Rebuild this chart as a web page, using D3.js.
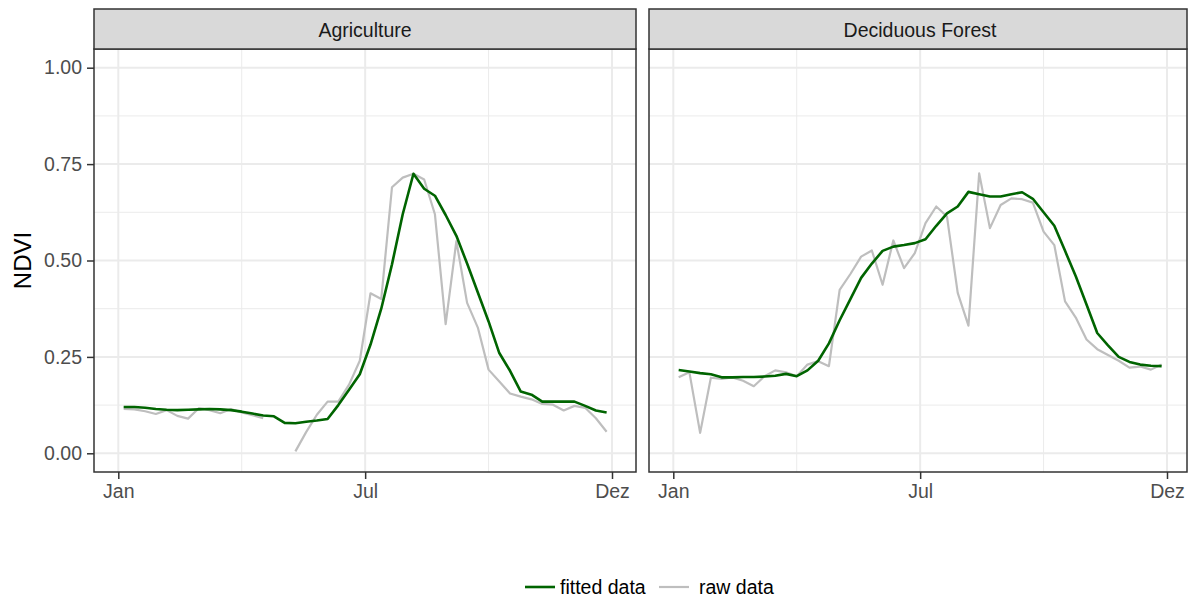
<!DOCTYPE html>
<html>
<head>
<meta charset="utf-8">
<script src="https://cdn.jsdelivr.net/npm/d3@7"></script>
<style>
  html, body { margin: 0; padding: 0; background: #ffffff; }
  svg { display: block; font-family: "Liberation Sans", Arial, sans-serif; }
</style>
</head>
<body>
<svg id="chart" width="1188" height="599"></svg>
<script>
// ---- data ----
const panels = ["Agriculture", "Deciduous Forest"];
const doy = [1,9,17,25,33,41,49,57,65,73,81,89,97,105,113,121,129,137,145,153,161,169,177,185,193,201,209,217,225,233,241,249,257,265,273,281,289,297,305,313,321,329,337,345,353,361];
const agriFitted = [0.120,0.120,0.118,0.115,0.113,0.112,0.113,0.114,0.115,0.114,0.112,0.108,0.103,0.098,0.096,0.079,0.078,0.082,0.085,0.089,0.125,0.165,0.205,0.282,0.375,0.490,0.620,0.725,0.686,0.668,0.618,0.564,0.492,0.417,0.342,0.260,0.214,0.160,0.152,0.134,0.134,0.134,0.134,0.123,0.111,0.106];
const agriRaw = [0.115,0.114,0.109,0.102,0.112,0.097,0.090,0.117,0.112,0.104,0.115,0.106,0.099,0.091,null,null,0.005,0.055,0.100,0.134,0.134,0.178,0.240,0.415,0.400,0.690,0.715,0.725,0.710,0.620,0.335,0.550,0.390,0.326,0.217,0.186,0.155,0.147,0.140,0.128,0.126,0.111,0.123,0.118,0.091,0.056];
const forestFitted = [0.216,0.212,0.208,0.205,0.197,0.197,0.198,0.198,0.199,0.201,0.206,0.200,0.215,0.240,0.285,0.345,0.400,0.455,0.492,0.525,0.536,0.540,0.545,0.555,0.590,0.622,0.640,0.678,0.672,0.666,0.666,0.672,0.677,0.660,0.625,0.590,0.525,0.459,0.386,0.312,0.280,0.250,0.237,0.230,0.227,0.226];
const forestRaw = [0.197,0.210,0.053,0.196,0.193,0.197,0.188,0.174,0.200,0.215,0.210,0.200,0.230,0.239,0.226,0.424,0.465,0.510,0.526,0.437,0.552,0.480,0.519,0.597,0.640,0.614,0.416,0.331,0.726,0.584,0.644,0.661,0.659,0.650,0.575,0.540,0.394,0.352,0.295,0.270,0.255,0.240,0.222,0.225,0.217,0.230];
const xTickValues = [-3, 181, 365];
const xTickLabels = ["Jan", "Jul", "Dez"];
const xMinorValues = [89, 273];
const yTickValues = [0, 0.25, 0.5, 0.75, 1];
const yTickLabels = ["0.00", "0.25", "0.50", "0.75", "1.00"];
const yMinorValues = [0.125, 0.375, 0.625, 0.875];
const seriesNames = ["fitted data", "raw data"];
const seriesColors = ["#006400", "#bebebe"];

const panelData = [
  { name: panels[0], fitted: agriFitted, raw: agriRaw },
  { name: panels[1], fitted: forestFitted, raw: forestRaw }
];

// ---- layout ----
const svg = d3.select("#chart");
const panelTop = 49, panelBottom = 472, stripTop = 9;
const panelBoxes = [{ x0: 94, x1: 636 }, { x0: 649, x1: 1187 }];
const y = d3.scaleLinear().domain([0, 1]).range([453.3, 67.7]);
const fontSize = 19.5;

panelData.forEach((pd, pi) => {
  const box = panelBoxes[pi];
  const x = d3.scaleLinear().domain([-3, 365]).range([box.x0 + 24.3, box.x0 + 518]);
  const g = svg.append("g");

  // background
  g.append("rect").attr("x", box.x0).attr("y", panelTop)
    .attr("width", box.x1 - box.x0).attr("height", panelBottom - panelTop)
    .attr("fill", "#ffffff");

  // minor grid
  g.selectAll(".ymin").data(yMinorValues).enter().append("line")
    .attr("x1", box.x0).attr("x2", box.x1)
    .attr("y1", d => y(d)).attr("y2", d => y(d))
    .attr("stroke", "#ebebeb").attr("stroke-width", 1);
  g.selectAll(".xmin").data(xMinorValues).enter().append("line")
    .attr("y1", panelTop).attr("y2", panelBottom)
    .attr("x1", d => x(d)).attr("x2", d => x(d))
    .attr("stroke", "#ebebeb").attr("stroke-width", 1);
  // major grid
  g.selectAll(".ymaj").data(yTickValues).enter().append("line")
    .attr("x1", box.x0).attr("x2", box.x1)
    .attr("y1", d => y(d)).attr("y2", d => y(d))
    .attr("stroke", "#ebebeb").attr("stroke-width", 2);
  g.selectAll(".xmaj").data(xTickValues).enter().append("line")
    .attr("y1", panelTop).attr("y2", panelBottom)
    .attr("x1", d => x(d)).attr("x2", d => x(d))
    .attr("stroke", "#ebebeb").attr("stroke-width", 2);

  // lines
  const line = d3.line()
    .defined(d => d.v !== null)
    .x(d => x(d.t)).y(d => y(d.v));
  const rawPts = doy.map((t, i) => ({ t, v: pd.raw[i] }));
  const fitPts = doy.map((t, i) => ({ t, v: pd.fitted[i] }));
  g.append("path").attr("d", line(rawPts)).attr("fill", "none")
    .attr("stroke", seriesColors[1]).attr("stroke-width", 2.2)
    .attr("stroke-linejoin", "round").attr("stroke-linecap", "butt");
  g.append("path").attr("d", line(fitPts)).attr("fill", "none")
    .attr("stroke", seriesColors[0]).attr("stroke-width", 2.6)
    .attr("stroke-linejoin", "round").attr("stroke-linecap", "butt");

  // panel border
  g.append("rect").attr("x", box.x0).attr("y", panelTop)
    .attr("width", box.x1 - box.x0).attr("height", panelBottom - panelTop)
    .attr("fill", "none").attr("stroke", "#333333").attr("stroke-width", 1.5);

  // strip
  g.append("rect").attr("x", box.x0).attr("y", stripTop)
    .attr("width", box.x1 - box.x0).attr("height", panelTop - stripTop)
    .attr("fill", "#d9d9d9").attr("stroke", "#333333").attr("stroke-width", 1.5);
  g.append("text").attr("x", pi === 0 ? (box.x0 + box.x1) / 2 : box.x0 + 271)
    .attr("y", (stripTop + panelTop) / 2 + 1)
    .attr("text-anchor", "middle").attr("dominant-baseline", "central")
    .attr("font-size", fontSize).attr("fill", "#1a1a1a").text(pd.name);

  // x axis
  const xAxis = d3.axisBottom(x).tickValues(xTickValues)
    .tickFormat((d, i) => xTickLabels[i]).tickSizeInner(7).tickSizeOuter(0).tickPadding(5);
  const xa = g.append("g").attr("transform", `translate(0,${panelBottom})`).call(xAxis);
  xa.select(".domain").remove();
  xa.selectAll("line").attr("stroke", "#333333").attr("stroke-width", 1.5);
  xa.selectAll("text").attr("font-size", fontSize).attr("fill", "#4d4d4d")
    .attr("font-family", "'Liberation Sans', Arial, sans-serif");

  if (pi === 0) {
    const yAxis = d3.axisLeft(y).tickValues(yTickValues)
      .tickFormat((d, i) => yTickLabels[i]).tickSizeInner(7).tickSizeOuter(0).tickPadding(5);
    const ya = g.append("g").attr("transform", `translate(${box.x0},0)`).call(yAxis);
    ya.select(".domain").remove();
    ya.selectAll("line").attr("stroke", "#333333").attr("stroke-width", 1.5);
    ya.selectAll("text").attr("font-size", fontSize).attr("fill", "#4d4d4d")
      .attr("font-family", "'Liberation Sans', Arial, sans-serif");
  }
});

// y axis title
svg.append("text").attr("transform", "translate(22,260.5) rotate(-90)")
  .attr("text-anchor", "middle").attr("dominant-baseline", "central")
  .attr("font-size", 24).attr("fill", "#000000").text("NDVI");

// legend
const legend = svg.append("g");
const legendItems = [
  { name: seriesNames[0], color: seriesColors[0], w: 2.6, kx: 525, tx: 560 },
  { name: seriesNames[1], color: seriesColors[1], w: 2.2, kx: 659, tx: 699 }
];
legendItems.forEach(it => {
  legend.append("line").attr("x1", it.kx).attr("x2", it.kx + 30)
    .attr("y1", 587).attr("y2", 587)
    .attr("stroke", it.color).attr("stroke-width", it.w);
  legend.append("text").attr("x", it.tx).attr("y", 587)
    .attr("dominant-baseline", "central").attr("font-size", fontSize)
    .attr("fill", "#000000").text(it.name);
});
</script>
</body>
</html>
